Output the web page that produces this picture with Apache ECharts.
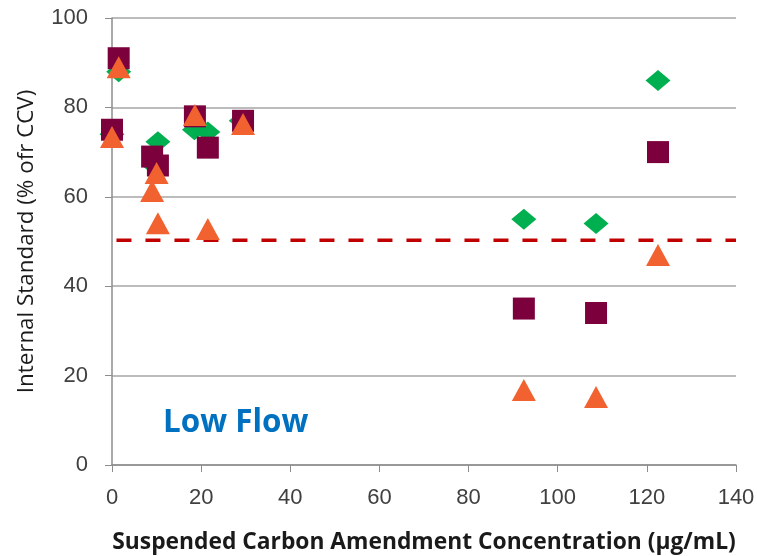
<!DOCTYPE html>
<html>
<head>
<meta charset="utf-8">
<script src="https://cdn.jsdelivr.net/npm/echarts@6/dist/echarts.min.js"></script>
<style>html,body{margin:0;padding:0;background:#fff}#c{width:757px;height:556px}</style>
</head>
<body>
<div id="c"></div>
<script>
// Data
var squareData = [[1.5,91],[0,75],[9,69],[10.3,67],[18.6,78],[21.5,71],[29.4,77],[92.4,35],[108.6,34],[122.5,70]];
var diamondData = [[1.5,88],[0,74],[10.3,72.3],[9.5,67],[18.5,75],[21.5,74.5],[29,77],[92.4,55],[108.6,54],[122.5,86]];
var triangleData = [[1.5,89],[0,73.4],[10,65.3],[9,61.3],[10.3,54.1],[18.6,78.3],[21.5,52.8],[29.4,76.3],[92.4,16.8],[108.6,15.2],[122.5,47]];
var thresholdX = [1, 140];
var thresholdY = 50.3;
var xTicks = [0,20,40,60,80,100,120,140];
var yTicks = [0,20,40,60,80,100];

var chart = echarts.init(document.getElementById('c'));
chart.setOption({
  animation: false,
  grid: {left: 112, right: 21, top: 18, bottom: 91, containLabel: false, outerBoundsMode: 'none'},
  xAxis: {
    type: 'value', min: 0, max: 140, interval: 20,
    name: 'Suspended Carbon Amendment Concentration (µg/mL)',
    nameLocation: 'middle', nameGap: 66,
    nameTextStyle: {fontFamily: 'Open Sans', fontSize: 22.8, fontWeight: 'bold', color: '#1a1a1a'},
    axisLine: {show: true, lineStyle: {color: '#8c8c8c', width: 1.5}},
    axisTick: {show: true, inside: false, length: 7, lineStyle: {color: '#8c8c8c'}},
    axisLabel: {fontFamily: 'Liberation Sans', fontSize: 22, color: '#404040', margin: 22,
      formatter: function(v){ return xTicks.indexOf(v) >= 0 ? String(v) : ''; }},
    splitLine: {show: false}
  },
  yAxis: {
    type: 'value', min: 0, max: 100, interval: 20,
    name: 'Internal Standard (% ofr CCV)',
    nameLocation: 'middle', nameGap: 74, nameRotate: 90,
    nameTextStyle: {fontFamily: 'Open Sans', fontSize: 22.4, color: '#1a1a1a'},
    axisLine: {show: true, lineStyle: {color: '#8c8c8c', width: 1.5}},
    axisTick: {show: true, length: 7, lineStyle: {color: '#8c8c8c'}},
    axisLabel: {fontFamily: 'Liberation Sans', fontSize: 22, color: '#404040', margin: 24,
      formatter: function(v){ return yTicks.indexOf(v) >= 0 ? String(v) : ''; }},
    splitLine: {show: true, lineStyle: {color: '#a6a6a6', width: 1.5}}
  },
  graphic: [{
    type: 'text', left: 163, top: 408,
    style: {text: 'Low Flow', fontFamily: 'Open Sans', fontSize: 31.4, fontWeight: 'bold', fill: '#0070C0'}
  }],
  series: [
    {
      type: 'line', data: thresholdX.map(function(x){ return [x, thresholdY]; }),
      symbol: 'none', z: 1,
      lineStyle: {color: '#C00000', width: 3.5, type: [15, 14]}
    },
    {
      type: 'scatter', data: diamondData, symbol: 'diamond', symbolSize: [25, 21], z: 2,
      itemStyle: {color: '#00B050', opacity: 1}
    },
    {
      type: 'scatter', data: squareData, symbol: 'rect', symbolSize: 22, z: 3,
      itemStyle: {color: '#7B003C', opacity: 1}
    },
    {
      type: 'scatter', data: triangleData, symbol: 'triangle', symbolSize: [24, 22], z: 4,
      itemStyle: {color: '#F26130', opacity: 1}
    }
  ]
});
</script>
</body>
</html>
